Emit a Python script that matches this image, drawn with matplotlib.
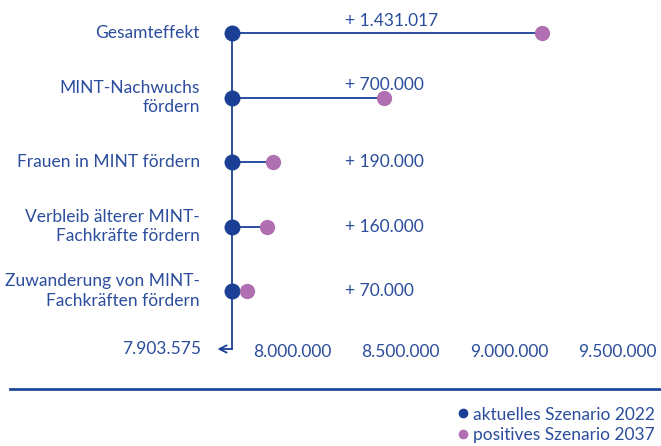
import matplotlib.pyplot as plt
from matplotlib.lines import Line2D
from matplotlib.ticker import FuncFormatter

plt.rcParams["font.family"] = ["Lato", "DejaVu Sans"]

# Data
categories = [
    "Gesamteffekt",
    "MINT-Nachwuchs\nfördern",
    "Frauen in MINT fördern",
    "Verbleib älterer MINT-\nFachkräfte fördern",
    "Zuwanderung von MINT-\nFachkräften fördern",
]
base = 7903575
increase = [1431017, 700000, 190000, 160000, 70000]
tick_values = [8000000, 8500000, 9000000, 9500000]
legend_labels = ["aktuelles Szenario 2022", "positives Szenario 2037"]

blue = "#1a3f94"
purple = "#b06fb0"
text_blue = "#2b4d9c"
fs = 12.5


def de_num(v):
    return "{:,}".format(int(round(v))).replace(",", ".")


W, H = 661, 446
fig = plt.figure(figsize=(W / 100, H / 100), dpi=100)

# axes spans full width, from top down to y=344 px
ax = fig.add_axes([0, (H - 344) / H, 1, 344 / H])
row_px = 64.5
top_px = 33
ax.set_ylim((344 - top_px) / row_px, -top_px / row_px)

# x scale: base at 232 px, 9.500.000 at 578 px
px_per_val = (578 - 232) / (9500000 - base)
xmin = base - 232 / px_per_val
xmax = base + (W - 232) / px_per_val
ax.set_xlim(xmin, xmax)

for s in ax.spines.values():
    s.set_visible(False)
ax.set_yticks([])
ax.set_xticks(tick_values)
ax.xaxis.set_major_formatter(FuncFormatter(lambda v, p: de_num(v)))
ax.tick_params(axis="x", length=0, pad=0, labelsize=fs, labelcolor=text_blue)
for lab in ax.get_xticklabels():
    lab.set_horizontalalignment("left")

y_end = (349 - top_px) / row_px
rows = list(range(len(categories)))

# vertical stem with arrow
ax.plot([base, base], [rows[0], y_end], color=blue, lw=1.3, clip_on=False, zorder=1)
ax.annotate("", xy=(base, y_end), xytext=(-10.5, 0), textcoords="offset points",
            arrowprops=dict(arrowstyle="<-", color=blue, lw=1.3,
                            shrinkA=0, shrinkB=0, mutation_scale=13),
            annotation_clip=False)
ax.annotate(de_num(base), xy=(base, y_end), xytext=(-22.5, 0),
            textcoords="offset points", ha="right", va="center",
            fontsize=fs, color=text_blue, annotation_clip=False)

label_x = 345 / W
for i, (cat, inc) in enumerate(zip(categories, increase)):
    end = base + inc
    ax.plot([base, end], [i, i], color=blue, lw=1.3, zorder=1)
    ax.plot(base, i, "o", ms=11.5, color=blue, mec="none", zorder=3)
    ax.plot(end, i, "o", ms=11, color=purple, mec="none", zorder=3)
    ax.text(200 / W, i, cat, transform=ax.get_yaxis_transform(), ha="right",
            va="center", fontsize=fs, color=text_blue, linespacing=1.25)
    # value label: above the line if the bar reaches past the label position
    end_frac = (end - xmin) / (xmax - xmin)
    if end_frac > label_x + 0.05:
        ax.annotate("+ " + de_num(inc), xy=(label_x, i), xycoords=ax.get_yaxis_transform(),
                    xytext=(0, 9), textcoords="offset points", ha="left", va="center",
                    fontsize=fs, color=text_blue)
    else:
        ax.text(label_x, i, "+ " + de_num(inc), transform=ax.get_yaxis_transform(),
                ha="left", va="center", fontsize=fs, color=text_blue)

# separator rule
fig.add_artist(Line2D([10 / W, 1], [1 - 389 / H, 1 - 389 / H],
                      transform=fig.transFigure, color="#1f4a9c", lw=2))

handles = [
    Line2D([], [], ls="none", marker="o", ms=7, color=blue, mec="none"),
    Line2D([], [], ls="none", marker="o", ms=7, color=purple, mec="none"),
]
fig.legend(handles, legend_labels, loc="lower right",
           bbox_to_anchor=(1.0 + 6 / W, -9 / H), frameon=False,
           fontsize=fs, labelcolor=text_blue, handlelength=0.6,
           handletextpad=0.3, labelspacing=0.25, borderpad=0.2)

fig.savefig("out.png", dpi=100)
